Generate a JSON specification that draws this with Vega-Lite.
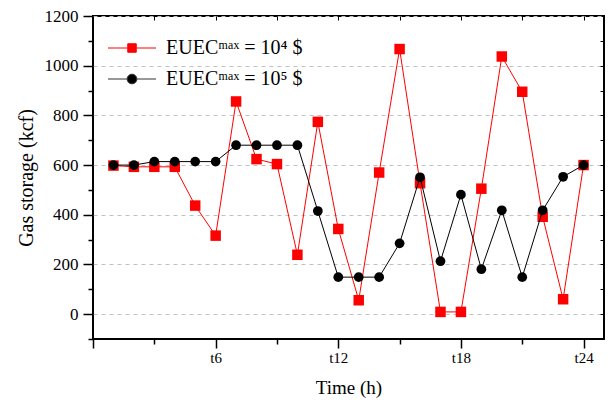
{
  "$schema": "https://vega.github.io/schema/vega-lite/v6.json",
  "autosize": "none",
  "width": 511,
  "height": 323,
  "padding": {"left": 93, "top": 16, "right": 5, "bottom": 61},
  "background": "white",
  "config": {
    "view": {"stroke": "#000", "strokeWidth": 2},
    "font": "Liberation Serif",
    "axis": {"labelFont": "Liberation Serif", "titleFont": "Liberation Serif", "labelColor": "#000", "titleColor": "#000", "tickColor": "#000", "domain": false, "titleFontWeight": "normal"},
    "legend": {"labelFont": "Liberation Serif"}
  },
  "data": {"values": [
    {"t": 1, "s": "EUECᵐᵃˣ = 10⁴ $", "v": 598},
    {"t": 2, "s": "EUECᵐᵃˣ = 10⁴ $", "v": 593},
    {"t": 3, "s": "EUECᵐᵃˣ = 10⁴ $", "v": 593},
    {"t": 4, "s": "EUECᵐᵃˣ = 10⁴ $", "v": 593},
    {"t": 5, "s": "EUECᵐᵃˣ = 10⁴ $", "v": 437},
    {"t": 6, "s": "EUECᵐᵃˣ = 10⁴ $", "v": 316},
    {"t": 7, "s": "EUECᵐᵃˣ = 10⁴ $", "v": 856},
    {"t": 8, "s": "EUECᵐᵃˣ = 10⁴ $", "v": 624},
    {"t": 9, "s": "EUECᵐᵃˣ = 10⁴ $", "v": 604},
    {"t": 10, "s": "EUECᵐᵃˣ = 10⁴ $", "v": 239},
    {"t": 11, "s": "EUECᵐᵃˣ = 10⁴ $", "v": 774},
    {"t": 12, "s": "EUECᵐᵃˣ = 10⁴ $", "v": 343},
    {"t": 13, "s": "EUECᵐᵃˣ = 10⁴ $", "v": 56},
    {"t": 14, "s": "EUECᵐᵃˣ = 10⁴ $", "v": 570},
    {"t": 15, "s": "EUECᵐᵃˣ = 10⁴ $", "v": 1067},
    {"t": 16, "s": "EUECᵐᵃˣ = 10⁴ $", "v": 527},
    {"t": 17, "s": "EUECᵐᵃˣ = 10⁴ $", "v": 9},
    {"t": 18, "s": "EUECᵐᵃˣ = 10⁴ $", "v": 9},
    {"t": 19, "s": "EUECᵐᵃˣ = 10⁴ $", "v": 505},
    {"t": 20, "s": "EUECᵐᵃˣ = 10⁴ $", "v": 1037},
    {"t": 21, "s": "EUECᵐᵃˣ = 10⁴ $", "v": 895},
    {"t": 22, "s": "EUECᵐᵃˣ = 10⁴ $", "v": 392},
    {"t": 23, "s": "EUECᵐᵃˣ = 10⁴ $", "v": 60},
    {"t": 24, "s": "EUECᵐᵃˣ = 10⁴ $", "v": 600},
    {"t": 1, "s": "EUECᵐᵃˣ = 10⁵ $", "v": 600},
    {"t": 2, "s": "EUECᵐᵃˣ = 10⁵ $", "v": 600},
    {"t": 3, "s": "EUECᵐᵃˣ = 10⁵ $", "v": 614},
    {"t": 4, "s": "EUECᵐᵃˣ = 10⁵ $", "v": 614},
    {"t": 5, "s": "EUECᵐᵃˣ = 10⁵ $", "v": 614},
    {"t": 6, "s": "EUECᵐᵃˣ = 10⁵ $", "v": 614},
    {"t": 7, "s": "EUECᵐᵃˣ = 10⁵ $", "v": 680},
    {"t": 8, "s": "EUECᵐᵃˣ = 10⁵ $", "v": 680},
    {"t": 9, "s": "EUECᵐᵃˣ = 10⁵ $", "v": 680},
    {"t": 10, "s": "EUECᵐᵃˣ = 10⁵ $", "v": 680},
    {"t": 11, "s": "EUECᵐᵃˣ = 10⁵ $", "v": 415},
    {"t": 12, "s": "EUECᵐᵃˣ = 10⁵ $", "v": 149},
    {"t": 13, "s": "EUECᵐᵃˣ = 10⁵ $", "v": 149},
    {"t": 14, "s": "EUECᵐᵃˣ = 10⁵ $", "v": 149},
    {"t": 15, "s": "EUECᵐᵃˣ = 10⁵ $", "v": 285},
    {"t": 16, "s": "EUECᵐᵃˣ = 10⁵ $", "v": 551},
    {"t": 17, "s": "EUECᵐᵃˣ = 10⁵ $", "v": 213},
    {"t": 18, "s": "EUECᵐᵃˣ = 10⁵ $", "v": 481},
    {"t": 19, "s": "EUECᵐᵃˣ = 10⁵ $", "v": 181},
    {"t": 20, "s": "EUECᵐᵃˣ = 10⁵ $", "v": 418},
    {"t": 21, "s": "EUECᵐᵃˣ = 10⁵ $", "v": 149},
    {"t": 22, "s": "EUECᵐᵃˣ = 10⁵ $", "v": 418},
    {"t": 23, "s": "EUECᵐᵃˣ = 10⁵ $", "v": 553},
    {"t": 24, "s": "EUECᵐᵃˣ = 10⁵ $", "v": 600}
  ]},
  "resolve": {"axis": {"x": "independent", "y": "independent"}},
  "layer": [
    {
      "transform": [{"filter": "datum.s == 'EUECᵐᵃˣ = 10⁴ $'"}],
      "mark": {"type": "line", "color": "#ff0000", "strokeWidth": 1},
      "encoding": {
        "x": {"field": "t", "type": "quantitative", "scale": {"domain": [0, 25], "nice": false, "zero": false},
          "axis": {"orient": "bottom", "values": [0, 6, 12, 18, 24], "labelExpr": "datum.value == 0 ? '' : 't' + datum.value", "labelFont": "Liberation Serif", "tickSize": 9, "tickWidth": 1.5, "labelFontSize": 15, "labelPadding": 2, "grid": false, "title": "Time (h)", "titleFont": "Liberation Serif", "titleFontSize": 19, "titlePadding": 13}},
        "y": {"field": "v", "type": "quantitative", "scale": {"domain": [-100, 1200], "nice": false, "zero": false},
          "axis": {"orient": "left", "values": [0, 200, 400, 600, 800, 1000, 1200], "format": "d", "labelFont": "Liberation Serif", "tickSize": 10, "tickWidth": 1.5, "labelFontSize": 17, "labelPadding": 5, "grid": true, "gridColor": "#c0c0c0", "gridDash": [4, 4], "gridWidth": 1, "title": "Gas storage (kcf)", "titleFont": "Liberation Serif", "titleFontSize": 20, "titlePadding": 8}}
      }
    },
    {
      "transform": [{"filter": "datum.s == 'EUECᵐᵃˣ = 10⁴ $'"}],
      "mark": {"type": "point", "shape": "square", "filled": true, "color": "#ff0000", "opacity": 1, "size": 110},
      "encoding": {
        "x": {"field": "t", "type": "quantitative", "axis": {"orient": "bottom", "values": [3, 9, 15, 21], "tickSize": 5, "tickWidth": 1.5, "labels": false, "grid": false, "title": null}},
        "y": {"field": "v", "type": "quantitative", "axis": {"orient": "left", "values": [-100, 100, 300, 500, 700, 900, 1100], "tickSize": 5, "tickWidth": 1.5, "labels": false, "grid": false, "title": null}}
      }
    },
    {
      "transform": [{"filter": "datum.s == 'EUECᵐᵃˣ = 10⁵ $'"}],
      "mark": {"type": "line", "color": "#000000", "strokeWidth": 1},
      "encoding": {
        "x": {"field": "t", "type": "quantitative", "axis": {"orient": "top", "values": [3, 6, 9, 12, 15, 18, 21, 24], "tickSize": -4, "tickWidth": 1, "labels": false, "grid": false, "title": null}},
        "y": {"field": "v", "type": "quantitative", "axis": {"orient": "right", "values": [0, 100, 200, 300, 400, 500, 600, 700, 800, 900, 1000, 1100], "tickSize": -4, "tickWidth": 1, "labels": false, "grid": false, "title": null}}
      }
    },
    {
      "transform": [{"filter": "datum.s == 'EUECᵐᵃˣ = 10⁵ $'"}],
      "mark": {"type": "point", "shape": "circle", "filled": true, "color": "#000000", "opacity": 1, "size": 95},
      "encoding": {
        "x": {"field": "t", "type": "quantitative", "axis": null},
        "y": {"field": "v", "type": "quantitative", "axis": null}
      }
    },
    {
      "transform": [{"filter": "false"}],
      "mark": {"type": "point", "filled": true, "size": 100, "strokeWidth": 1},
      "encoding": {
        "x": {"field": "t", "type": "quantitative", "axis": null},
        "y": {"field": "v", "type": "quantitative", "axis": null},
        "shape": {"field": "s", "type": "nominal", "scale": {"domain": ["EUECᵐᵃˣ = 10⁴ $", "EUECᵐᵃˣ = 10⁵ $"], "range": ["M-4.8,0H-0.85M0.85,0H4.8M-0.85,-0.85H0.85V0.85H-0.85Z", "M-4.8,0H-0.97M0.97,0H4.8M-0.97,0A0.97,0.97,0,1,1,0.97,0A0.97,0.97,0,1,1,-0.97,0Z"]},
          "legend": {"orient": "none", "legendX": 29, "legendY": 22, "title": null, "padding": 0, "labelFont": "Liberation Serif", "labelFontSize": 20, "labelColor": "#000", "labelOffset": 24, "symbolSize": 100, "symbolStrokeWidth": 1, "symbolOpacity": 1, "rowPadding": 11}},
        "fill": {"field": "s", "type": "nominal", "scale": {"domain": ["EUECᵐᵃˣ = 10⁴ $", "EUECᵐᵃˣ = 10⁵ $"], "range": ["#ff0000", "#000000"]}, "legend": {"orient": "none", "legendX": 29, "legendY": 22, "title": null}},
        "stroke": {"field": "s", "type": "nominal", "scale": {"domain": ["EUECᵐᵃˣ = 10⁴ $", "EUECᵐᵃˣ = 10⁵ $"], "range": ["#ff0000", "#333333"]}, "legend": {"orient": "none", "legendX": 29, "legendY": 22, "title": null}}
      }
    }
  ]
}
